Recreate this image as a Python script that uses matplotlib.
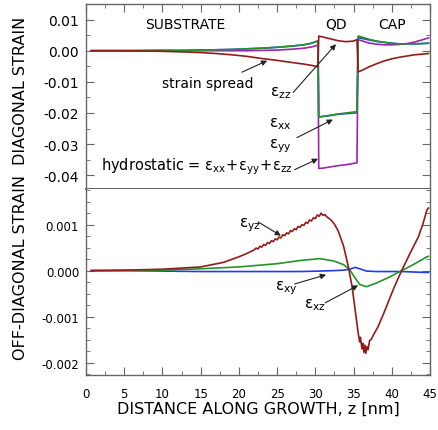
import matplotlib
matplotlib.use('Agg')
import matplotlib.pyplot as plt
from matplotlib.ticker import MultipleLocator, FormatStrFormatter

plt.rcParams['font.family'] = ['DejaVu Sans']
plt.rcParams['axes.unicode_minus'] = False

# ---- diagonal strain (upper panel) ----
z_diag = [0.7, 5, 10, 13, 15, 17, 19, 21, 23, 25, 27, 28.5, 29.5, 30.35, 30.45, 31, 32, 33, 34, 35,
          35.45, 35.6, 35.8, 36.2, 37, 38, 39, 40, 41, 42, 43, 44, 44.8]
eps_zz = [0, 0, -0.0002, -0.0004, -0.0006, -0.0009, -0.0013, -0.0018, -0.0025, -0.0031, -0.0038, -0.0043,
          -0.0047, -0.0052, 0.0047, 0.0044, 0.0038, 0.0032, 0.0029, 0.0031, 0.0036, -0.0068, -0.0066,
          -0.0062, -0.0052, -0.0042, -0.0033, -0.0026, -0.0021, -0.0017, -0.0013, -0.0011, -0.0009]
eps_xx = [0, 0, 0.0001, 0.0001, 0.0002, 0.0003, 0.0004, 0.0006, 0.0008, 0.0011, 0.0015, 0.0019, 0.0024,
          0.0032, -0.0213, -0.0211, -0.0207, -0.0203, -0.0200, -0.0197, -0.0196, 0.0047, 0.0046, 0.0043,
          0.0037, 0.0031, 0.0027, 0.0024, 0.0022, 0.0022, 0.0022, 0.0023, 0.0024]
eps_yy = [0, 0, 0.0001, 0.0001, 0.0002, 0.0003, 0.0004, 0.0006, 0.0008, 0.0011, 0.0015, 0.0019, 0.0024,
          0.0031, -0.0213, -0.0211, -0.0208, -0.0204, -0.0202, -0.0200, -0.0199, 0.0042, 0.0041, 0.0039,
          0.0035, 0.0030, 0.0027, 0.0024, 0.0022, 0.0022, 0.0022, 0.0023, 0.0024]
hydro = [0, 0, 0, 0, 0, 0, 0, 0, 0.0001, 0.0002, 0.0005, 0.0008, 0.0012, 0.0018, -0.0378, -0.0377, -0.0373,
         -0.0369, -0.0366, -0.0362, -0.0360, 0.0035, 0.0034, 0.0031, 0.0025, 0.0021, 0.0019, 0.0019,
         0.0020, 0.0023, 0.0028, 0.0035, 0.0041]

# ---- off-diagonal strain (lower panel) ----
z_yz = [0.7, 5, 10, 15, 18, 20, 21,
        22.0, 22.25, 22.5, 22.75, 23.0, 23.25, 23.5, 23.75, 24.0, 24.25, 24.5, 24.75, 25.0, 25.25, 25.5,
        25.75, 26.0, 26.25, 26.5, 26.75, 27.0, 27.25, 27.5, 27.75, 28.0, 28.25, 28.5, 28.75, 29.0, 29.25,
        29.5, 29.75, 30.0, 30.25, 30.5, 30.75, 31.0, 31.25, 31.5,
        32, 32.5, 33, 33.7, 34.3, 34.8, 35.2, 35.6, 35.8, 35.9, 36.1, 36.2, 36.35, 36.5, 36.6, 36.75,
        36.9, 37.1, 37.3, 37.6, 38.2, 38.9, 39.5, 40.2, 40.8, 41.3, 42.4, 43.5, 44.1, 44.6, 44.8]
eps_yz = [0, 0.00001, 0.00003, 0.00008, 0.00018, 0.0003, 0.00037,
          0.00045, 0.00049, 0.00047, 0.00053, 0.00051, 0.00057, 0.00055, 0.00061, 0.00059, 0.00065,
          0.00063, 0.00069, 0.00067, 0.00073, 0.00071, 0.00078, 0.00076, 0.00082, 0.00080, 0.00087,
          0.00085, 0.00091, 0.00089, 0.00096, 0.00094, 0.00100, 0.00098, 0.00105, 0.00103, 0.00110,
          0.00108, 0.00115, 0.00113, 0.00121, 0.00118, 0.00125, 0.00120, 0.00122, 0.00117,
          0.00111, 0.00101, 0.00086, 0.00053, 0.0001, -0.00034, -0.00084, -0.00135, -0.00155, -0.00145,
          -0.0017, -0.00158, -0.00178, -0.00162, -0.0018, -0.00165, -0.00172, -0.00152, -0.0015, -0.0014,
          -0.00122, -0.00095, -0.0007, -0.00041, -0.00018, 0.0, 0.00038, 0.00074, 0.00103, 0.00132, 0.00136]

z_off = [0.7, 5, 10, 15, 20, 25, 28, 30.6, 32.4, 33.7, 34.5, 35.2, 35.8, 36.7, 38, 39.7, 41.3, 42.8, 44.6, 44.8]
eps_xz = [0, 0, 0.00001, 0.00004, 0.00008, 0.00015, 0.00022, 0.00026, 0.00021, 0.00013, 0.00002, -0.00016,
          -0.0003, -0.00035, -0.00027, -0.00014, 0, 0.00013, 0.0003, 0.00031]
eps_xy = [0, 0, -0.00001, -0.00002, -0.00002, -0.00002, -0.00002, -0.00001, 0, 0.00001, 0.00003, 0.00007,
          0.00004, -0.00001, -0.00002, -0.00002, -0.00002, -0.00003, -0.00004, -0.00004]

RED = '#951a1a'
GREEN = '#23952a'
PURPLE = '#a020b8'
BLUE = '#1f3cf0'
FRAME = '#666666'

fig = plt.figure(figsize=(4.38, 4.31), dpi=100)
ax1 = fig.add_axes([0.1963, 0.5592, 0.7854, 0.4292])
ax2 = fig.add_axes([0.1963, 0.1276, 0.7854, 0.4316])

ax1.plot(z_diag, eps_yy, color=BLUE, lw=1.2)
ax1.plot(z_diag, hydro, color=PURPLE, lw=1.2)
ax1.plot(z_diag, eps_xx, color=GREEN, lw=1.2)
ax1.plot(z_diag, eps_zz, color=RED, lw=1.2)

ax2.plot(z_off, eps_xy, color=BLUE, lw=1.2)
ax2.plot(z_off, eps_xz, color=GREEN, lw=1.2)
ax2.plot(z_yz, eps_yz, color=RED, lw=1.2)

for ax in (ax1, ax2):
    ax.set_xlim(0, 45)
    ax.xaxis.set_major_locator(MultipleLocator(5))
    ax.xaxis.set_minor_locator(MultipleLocator(2.5))
    for s in ax.spines.values():
        s.set_color(FRAME)
        s.set_linewidth(1.0)
    ax.tick_params(which='both', direction='in', color=FRAME, right=True)
    ax.tick_params(which='major', length=6)
    ax.tick_params(which='minor', length=3)
    ax.tick_params(axis='y', pad=5)

ax1.set_ylim(-0.0444, 0.015)
ax1.yaxis.set_major_locator(MultipleLocator(0.01))
ax1.yaxis.set_minor_locator(MultipleLocator(0.005))
ax1.yaxis.set_major_formatter(FormatStrFormatter('%.2f'))
ax1.tick_params(axis='x', which='both', top=True, bottom=False, labelbottom=False)
ax1.tick_params(axis='y', labelsize=10)
ax1.spines['bottom'].set_color('#555555')
ax1.spines['bottom'].set_linewidth(1.3)

ax2.set_ylim(-0.00227, 0.001775)
ax2.yaxis.set_major_locator(MultipleLocator(0.001))
ax2.yaxis.set_minor_locator(MultipleLocator(0.00025))
ax2.yaxis.set_major_formatter(FormatStrFormatter('%.3f'))
ax2.tick_params(axis='x', which='both', top=False, bottom=True)
ax2.tick_params(axis='x', pad=8.5)
ax2.tick_params(axis='both', labelsize=8.5)
ax2.spines['top'].set_visible(False)
ax2.set_xlabel('DISTANCE ALONG GROWTH, z [nm]', fontsize=11.5, labelpad=1)

fig.text(0.046, 0.79, 'DIAGONAL STRAIN', rotation=90, fontsize=11.5, ha='center', va='center')
fig.text(0.046, 0.38, 'OFF-DIAGONAL STRAIN', rotation=90, fontsize=11.5, ha='center', va='center')

# region labels
ax1.text(12.95, 0.0086, 'SUBSTRATE', fontsize=10, ha='center', va='center')
ax1.text(32.7, 0.0086, 'QD', fontsize=10, ha='center', va='center')
ax1.text(40.0, 0.0086, 'CAP', fontsize=10, ha='center', va='center')

arrow = dict(arrowstyle='-|>', color='#222222', lw=0.8, mutation_scale=8, shrinkA=0, shrinkB=0)

ax1.text(15.9, -0.0103, 'strain spread', fontsize=10, ha='center', va='center')
ax1.annotate('', xy=(23.7, -0.0032), xytext=(20.4, -0.0069), arrowprops=arrow)

ax1.text(25.4, -0.0134, r'$\mathregular{ε_{zz}}$', fontsize=11, ha='center', va='center')
ax1.annotate('', xy=(32.7, 0.0021), xytext=(27.1, -0.0134), arrowprops=arrow)

ax1.text(25.4, -0.0233, r'$\mathregular{ε_{xx}}$', fontsize=11, ha='center', va='center')
ax1.text(25.4, -0.0302, r'$\mathregular{ε_{yy}}$', fontsize=11, ha='center', va='center')
ax1.annotate('', xy=(32.3, -0.0221), xytext=(27.6, -0.0279), arrowprops=arrow)

ax1.text(27.1, -0.0368, r'hydrostatic = $\mathregular{ε_{xx}\!+\!ε_{yy}\!+\!ε_{zz}}$', fontsize=10.5,
         ha='right', va='center')
ax1.annotate('', xy=(30.35, -0.0347), xytext=(27.3, -0.0382), arrowprops=arrow)

ax2.text(21.5, 0.001, r'$\mathregular{ε_{yz}}$', fontsize=11, ha='center', va='center')
ax2.annotate('', xy=(25.5, 0.00076), xytext=(22.5, 0.00106), arrowprops=arrow)

ax2.text(26.2, -0.00035, r'$\mathregular{ε_{xy}}$', fontsize=11, ha='center', va='center')
ax2.annotate('', xy=(31.4, -0.00009), xytext=(27.3, -0.00029), arrowprops=arrow)

ax2.text(29.96, -0.00074, r'$\mathregular{ε_{xz}}$', fontsize=11, ha='center', va='center')
ax2.annotate('', xy=(35.6, -0.00032), xytext=(31.3, -0.0007), arrowprops=arrow)

fig.savefig('out.png', dpi=100)
